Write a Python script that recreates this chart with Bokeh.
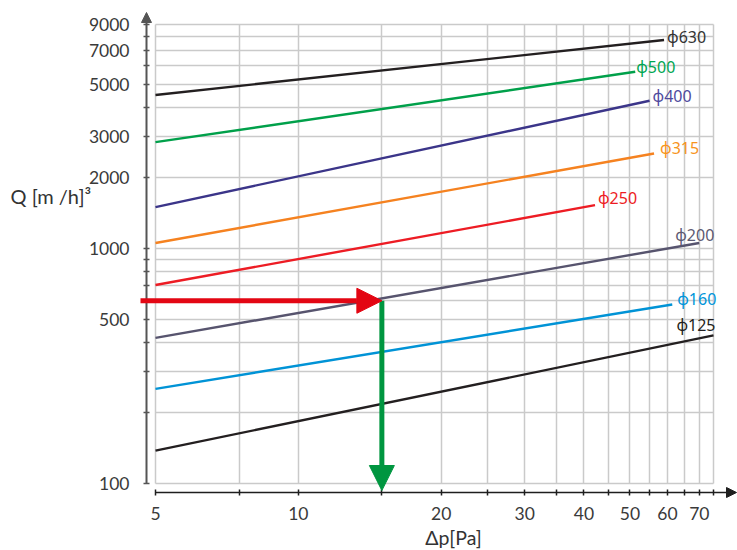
from bokeh.plotting import figure
from bokeh.models import ColumnDataSource, FixedTicker, Arrow, NormalHead, Label
from bokeh.core.properties import value
from bokeh.embed import file_html
from bokeh.resources import INLINE

# ---------------- data ----------------
SERIES = ["ϕ630", "ϕ500", "ϕ400", "ϕ315", "ϕ250", "ϕ200", "ϕ160", "ϕ125"]
DP_START = [5, 5, 5, 5, 5, 5, 5, 5]
DP_END = [59, 51.3, 55, 56.2, 42.2, 70, 61.4, 75]
Q_START = [4510, 2840, 1503, 1057, 700, 417, 253, 138]
Q_END = [7730, 5660, 4260, 2540, 1531, 1057, 578, 427]

X_TICKS = [5, 7.5, 10, 15, 20, 25, 30, 35, 40, 45, 50, 55, 60, 65, 70, 75]
X_TICK_LABELS = {5: "5", 10: "10", 20: "20", 30: "30", 40: "40",
                 50: "50", 60: "60", 70: "70"}
Y_TICKS = [100, 200, 300, 400, 500, 600, 700, 800, 900,
           1000, 2000, 3000, 4000, 5000, 6000, 7000, 8000, 9000]
Y_TICK_LABELS = {100: "100", 500: "500", 1000: "1000", 2000: "2000",
                 3000: "3000", 5000: "5000", 7000: "7000", 9000: "9000"}

EXAMPLE_DP = 15
EXAMPLE_Q = 600

X_TITLE = "Δp[Pa]"
Y_TITLE = "Q [m /h]³"

# ---------------- styles / layout ----------------
LINE_COLORS = ["#231f20", "#00a04a", "#3b3589", "#f58220",
               "#ed1c24", "#57546e", "#0093d6", "#231f20"]
LABEL_COLORS = ["#333333", "#00a651", "#4f4a9e", "#f7941d",
                "#ed1c24", "#5d5a72", "#0095da", "#231f20"]
LABEL_DX = [3, 1, 3, 6, 3, 15, 5, 2]
LABEL_DY = [-3, -5, -5, -6, -7, -8, -6, -10]
LABEL_ALIGN = ["left", "left", "left", "left", "left", "right", "left", "right"]

RED = "#e30613"
GREEN = "#009640"
TICK_COLOR = "#3a3a3a"
XAX_COLOR = "#1e1e1e"
YAX_COLOR = "#555555"

W, H = 737, 550
PX_PER_DEC_X = 474.5          # log scale density of the reference
PX_PER_DEC_Y = 234.9
X_RANGE = (5 * 10 ** (-155 / PX_PER_DEC_X), 75 * 10 ** (24 / PX_PER_DEC_X))
Y_RANGE = (100 * 10 ** (-67 / PX_PER_DEC_Y), 9000 * 10 ** (24 / PX_PER_DEC_Y))
Y_AXIS_AT = X_TICKS[0] * 10 ** (-9 / PX_PER_DEC_X)    # axes sit a little off the grid
X_AXIS_AT = Y_TICKS[0] * 10 ** (-9 / PX_PER_DEC_Y)
X_AXIS_END = X_TICKS[-1] * 10 ** (14 / PX_PER_DEC_X)
Y_AXIS_END = Y_TICKS[-1] * 10 ** (4 / PX_PER_DEC_Y)

src = ColumnDataSource(dict(
    x0=DP_START, y0=Q_START, x1=DP_END, y1=Q_END, label=SERIES,
    lc=LINE_COLORS, tc=LABEL_COLORS, dx=LABEL_DX, dy=LABEL_DY, al=LABEL_ALIGN,
))

p = figure(width=W, height=H, x_axis_type="log", y_axis_type="log",
           x_range=X_RANGE, y_range=Y_RANGE, title=None,
           output_backend="svg", toolbar_location=None,
           min_border=0)
p.outline_line_color = None
p.background_fill_color = "white"
p.border_fill_color = "white"

# axes (drawn at fixed positions so that the whole canvas is the frame)
xt = FixedTicker(ticks=X_TICKS, minor_ticks=[])
yt = FixedTicker(ticks=Y_TICKS, minor_ticks=[])
p.xaxis.ticker = xt
p.yaxis.ticker = yt
p.xgrid.ticker = xt
p.ygrid.ticker = yt
p.xaxis.major_label_overrides = {t: X_TICK_LABELS.get(t, "") for t in X_TICKS}
p.yaxis.major_label_overrides = {t: Y_TICK_LABELS.get(t, "") for t in Y_TICKS}
p.xaxis.fixed_location = X_AXIS_AT
p.yaxis.fixed_location = Y_AXIS_AT
p.xaxis.bounds = (X_TICKS[0], X_AXIS_END)
p.yaxis.bounds = (Y_TICKS[0], Y_AXIS_END)

for ax, col, w in ((p.xaxis, XAX_COLOR, 1.6), (p.yaxis, YAX_COLOR, 2)):
    ax.axis_line_color = col
    ax.axis_line_width = w
    ax.major_tick_line_color = col
    ax.major_tick_line_width = 1.5
    ax.major_tick_in = 3
    ax.major_tick_out = 3
    ax.minor_tick_line_color = None
    ax.major_label_text_font = "Lato"
    ax.major_label_text_font_size = "17.5px"
    ax.major_label_text_color = TICK_COLOR
p.xaxis.major_label_standoff = 11
p.yaxis.major_label_standoff = 14

for g in (p.xgrid, p.ygrid):
    g.grid_line_color = "#cacaca"
    g.grid_line_width = 1.5
p.xgrid.bounds = (X_TICKS[0], X_TICKS[-1])
p.ygrid.bounds = (Y_TICKS[0], Y_TICKS[-1])
p.xgrid.cross_bounds = (Y_TICKS[0], Y_TICKS[-1])
p.ygrid.cross_bounds = (X_TICKS[0], X_TICKS[-1])

# axis arrowheads
p.add_layout(Arrow(end=NormalHead(size=10, fill_color=YAX_COLOR, line_color=YAX_COLOR),
                   x_start=Y_AXIS_AT, y_start=Y_AXIS_END,
                   x_end=Y_AXIS_AT, y_end=Y_AXIS_END * 10 ** (8 / PX_PER_DEC_Y),
                   line_color=YAX_COLOR, line_width=2))
p.add_layout(Arrow(end=NormalHead(size=10, fill_color=XAX_COLOR, line_color=XAX_COLOR),
                   x_start=X_AXIS_END, y_start=X_AXIS_AT,
                   x_end=X_AXIS_END * 10 ** (9 / PX_PER_DEC_X), y_end=X_AXIS_AT,
                   line_color=XAX_COLOR, line_width=1.6))

# series lines and their labels
p.segment(x0="x0", y0="y0", x1="x1", y1="y1", line_color="lc",
          line_width=2.4, source=src)
p.text(x="x1", y="y1", text="label", x_offset="dx", y_offset="dy",
       text_align="al", text_baseline="middle", text_color="tc",
       text_font=value("Noto Sans"), text_font_size="16px", source=src)

# reading example arrows
p.add_layout(Arrow(end=NormalHead(size=25, fill_color=GREEN, line_color=GREEN),
                   x_start=EXAMPLE_DP, y_start=EXAMPLE_Q,
                   x_end=EXAMPLE_DP, y_end=X_AXIS_AT * 10 ** (2 / PX_PER_DEC_Y),
                   line_color=GREEN, line_width=5))
p.add_layout(Arrow(end=NormalHead(size=25, fill_color=RED, line_color=RED),
                   x_start=Y_AXIS_AT * 10 ** (-6 / PX_PER_DEC_X), y_start=EXAMPLE_Q,
                   x_end=EXAMPLE_DP, y_end=EXAMPLE_Q,
                   line_color=RED, line_width=5))

# axis titles
p.add_layout(Label(x=10, y=H - 195, x_units="screen", y_units="screen",
                   text=Y_TITLE, text_baseline="middle", text_font="Lato",
                   text_font_size="20px", text_color="#333333"))
p.add_layout(Label(x=453, y=H - 537, x_units="screen", y_units="screen",
                   text=X_TITLE, text_align="center", text_baseline="middle",
                   text_font="Lato", text_font_size="19.5px", text_color="#333333"))

open("out.html", "w").write(file_html(p, INLINE))
